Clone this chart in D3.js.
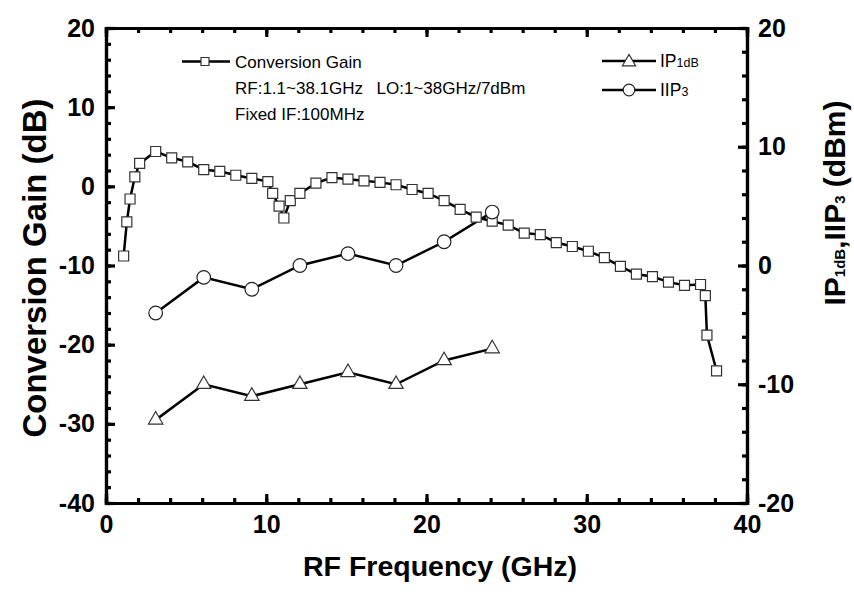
<!DOCTYPE html>
<html><head><meta charset="utf-8">
<script src="https://cdn.jsdelivr.net/npm/d3@7"></script>
<style>
body{margin:0;background:#fff;}
text{font-family:"Liberation Sans",Arial,sans-serif;}
</style></head>
<body><svg id="c" width="854" height="602"></svg>
<script>
const cgFreq = [1.1,1.3,1.5,1.8,2.1,3.1,4.1,5.1,6.1,7.1,8.1,9.1,10.1,10.4,10.8,11.1,11.5,12.1,13.1,14.1,15.1,16.1,17.1,18.1,19.1,20.1,21.1,22.1,23.1,24.1,25.1,26.1,27.1,28.1,29.1,30.1,31.1,32.1,33.1,34.1,35.1,36.1,37.1,37.4,37.5,38.1];
const cgGain = [-8.8,-4.5,-1.6,1.2,2.9,4.4,3.6,3.1,2.1,1.9,1.4,1.0,0.6,-0.9,-2.5,-4.0,-1.8,-0.9,0.4,1.1,0.9,0.7,0.5,0.2,-0.4,-0.9,-1.8,-2.9,-3.9,-4.4,-4.9,-5.9,-6.1,-7.1,-7.6,-8.2,-9.0,-10.1,-11.1,-11.4,-12.1,-12.5,-12.4,-13.8,-18.8,-23.3];
const ipFreq = [3.1,6.1,9.1,12.1,15.1,18.1,21.1,24.1];
const ip1dB = [-13,-10,-11,-10,-9,-10,-8,-7];
const iip3 = [-4,-1,-2,0,1,0,2,4.5];
const xTicks = [0,10,20,30,40];
const yLeftTicks = [-40,-30,-20,-10,0,10,20];
const yRightTicks = [-20,-10,0,10,20];

const svg = d3.select("#c");
const L=106,R=747,T=28,B=503;
const x = d3.scaleLinear().domain([0,40]).range([L,R]);
const yL = d3.scaleLinear().domain([-40,20]).range([B,T]);
const yR = d3.scaleLinear().domain([-20,20]).range([B,T]);

function styleAxis(g){
  g.select(".domain").attr("stroke","#000").attr("stroke-width",3.2);
  g.selectAll(".tick line").attr("stroke","#000").attr("stroke-width",3.2);
  g.selectAll(".tick text").attr("font-size",25).attr("font-weight","bold").attr("fill","#000");
}
const minorX = d3.range(0,41,2), minorYL = d3.range(-40,21,2), minorYR = d3.range(-20,21,2);
// minor ticks
svg.append("g").attr("transform",`translate(0,${B})`).call(d3.axisBottom(x).tickValues(minorX).tickSize(-5).tickFormat("")).call(styleAxis);
svg.append("g").attr("transform",`translate(0,${T})`).call(d3.axisTop(x).tickValues(minorX).tickSize(-5).tickFormat("")).call(styleAxis);
svg.append("g").attr("transform",`translate(${L},0)`).call(d3.axisLeft(yL).tickValues(minorYL).tickSize(-5).tickFormat("")).call(styleAxis);
svg.append("g").attr("transform",`translate(${R},0)`).call(d3.axisRight(yR).tickValues(minorYR).tickSize(-5).tickFormat("")).call(styleAxis);
// major ticks
svg.append("g").attr("transform",`translate(0,${B})`).call(d3.axisBottom(x).tickValues(xTicks).tickSize(-9).tickPadding(12).tickFormat(d3.format("d"))).call(styleAxis);
svg.append("g").attr("transform",`translate(0,${T})`).call(d3.axisTop(x).tickValues(xTicks).tickSize(-9).tickFormat("")).call(styleAxis);
svg.append("g").attr("transform",`translate(${L},0)`).call(d3.axisLeft(yL).tickValues(yLeftTicks).tickSize(-9).tickPadding(11).tickFormat(d3.format("d"))).call(styleAxis);
svg.append("g").attr("transform",`translate(${R},0)`).call(d3.axisRight(yR).tickValues(yRightTicks).tickSize(-9).tickPadding(11).tickFormat(d3.format("d"))).call(styleAxis);
svg.selectAll(".tick text").text(function(){return this.textContent.replace("−","-");});

// lines
const lineStyle = p => p.attr("fill","none").attr("stroke","#000").attr("stroke-width",2.5);
const cg = cgFreq.map((f,i)=>[f,cgGain[i]]);
const p1 = ipFreq.map((f,i)=>[f,ip1dB[i]]);
const p3 = ipFreq.map((f,i)=>[f,iip3[i]]);
svg.append("path").datum(cg).attr("d",d3.line().x(d=>x(d[0])).y(d=>yL(d[1]))).call(lineStyle);
svg.append("path").datum(p1).attr("d",d3.line().x(d=>x(d[0])).y(d=>yR(d[1]))).call(lineStyle);
svg.append("path").datum(p3).attr("d",d3.line().x(d=>x(d[0])).y(d=>yR(d[1]))).call(lineStyle);

const sq = d3.symbol().type(d3.symbolSquare).size(100);
const tri = d3.symbol().type(d3.symbolTriangle).size(90);
function mk(data, ys, sym){
  svg.append("g").selectAll("path").data(data).join("path")
    .attr("transform",d=>`translate(${x(d[0])},${ys(d[1])})`)
    .attr("d",sym).attr("fill","#fff").attr("stroke","#333").attr("stroke-width",1.2);
}
mk(cg,yL,sq);
mk(p1,yR,tri);
svg.append("g").selectAll("circle").data(p3).join("circle")
  .attr("cx",d=>x(d[0])).attr("cy",d=>yR(d[1])).attr("r",6.8)
  .attr("fill","#fff").attr("stroke","#222").attr("stroke-width",1.2);

// legends
const lg = svg.append("g");
lg.append("line").attr("x1",182).attr("x2",230).attr("y1",61.5).attr("y2",61.5).attr("stroke","#000").attr("stroke-width",2.5);
lg.append("path").attr("transform","translate(205,61.5)").attr("d",d3.symbol().type(d3.symbolSquare).size(64)).attr("fill","#fff").attr("stroke","#333").attr("stroke-width",1.2);
const lt = (xx,yy,t)=>lg.append("text").attr("x",xx).attr("y",yy).attr("font-size",17).attr("fill","#000").text(t);
lt(235,67.5,"Conversion Gain");
lt(235,94,"RF:1.1~38.1GHz  LO:1~38GHz/7dBm").style("white-space","pre").attr("word-spacing",2);
lt(235,120,"Fixed IF:100MHz");

lg.append("line").attr("x1",602).attr("x2",656).attr("y1",61).attr("y2",61).attr("stroke","#000").attr("stroke-width",2.5);
lg.append("path").attr("transform","translate(629,62)").attr("d",d3.symbol().type(d3.symbolTriangle).size(75)).attr("fill","#fff").attr("stroke","#333").attr("stroke-width",1.2);
const t1 = lg.append("text").attr("x",660).attr("y",67).attr("font-size",17.5).attr("fill","#000");
t1.append("tspan").text("IP");
t1.append("tspan").attr("font-size",12.5).text("1dB");
lg.append("line").attr("x1",602).attr("x2",656).attr("y1",90).attr("y2",90).attr("stroke","#000").attr("stroke-width",2.5);
lg.append("circle").attr("cx",629).attr("cy",90).attr("r",5.8).attr("fill","#fff").attr("stroke","#222").attr("stroke-width",1.2);
const t2 = lg.append("text").attr("x",660).attr("y",96).attr("font-size",17.5).attr("fill","#000");
t2.append("tspan").text("IIP");
t2.append("tspan").attr("font-size",12.5).text("3");

// axis titles
svg.append("text").attr("x",440).attr("y",576).attr("text-anchor","middle").attr("font-size",28.5).attr("font-weight","bold").text("RF Frequency (GHz)");
svg.append("text").attr("transform","translate(46,268) rotate(-90)").attr("text-anchor","middle").attr("font-size",33).attr("font-weight","bold").text("Conversion Gain (dB)");
const rt = svg.append("text").attr("transform","translate(845,203) rotate(-90)").attr("text-anchor","middle").attr("font-size",30).attr("font-weight","bold");
rt.append("tspan").text("IP");
rt.append("tspan").attr("font-size",15).text("1dB");
rt.append("tspan").text(",IIP");
rt.append("tspan").attr("font-size",15).text("3");
rt.append("tspan").text(" (dBm)");
</script></body></html>
